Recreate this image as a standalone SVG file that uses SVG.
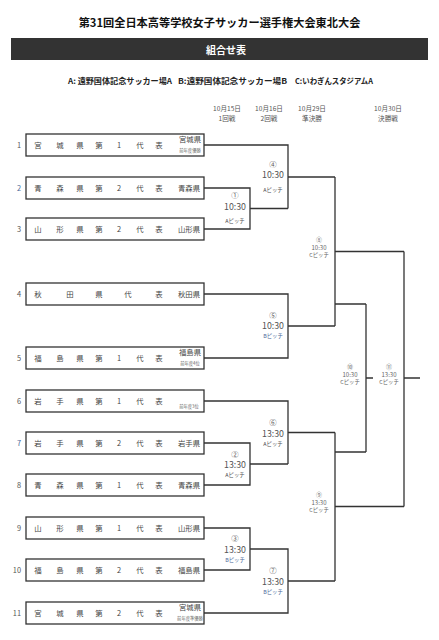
<svg xmlns="http://www.w3.org/2000/svg" width="439" height="640" viewBox="0 0 439 640">
<style>
text{font-family:"Noto Sans CJK JP","Noto Sans",sans-serif;fill:#333}
.title{font-size:11.2px;font-weight:bold;fill:#111}
.bar{fill:#333}
.bartxt{font-size:10px;font-weight:bold;fill:#fff}
.leg{font-size:7.6px;font-weight:bold;fill:#222}
.date{font-size:6.6px;fill:#555;text-anchor:middle}
.box{fill:#fff;stroke:#333;stroke-width:1.3}
.t{font-size:7.4px;fill:#444;text-anchor:middle}
.nm{font-size:7.4px;fill:#444;text-anchor:middle}
.cap{font-size:4.3px;fill:#666;text-anchor:middle}
.num{font-size:7.4px;fill:#555;text-anchor:end}
.numb{fill:#4a6a9a}
.ci{font-size:7.4px;fill:#555;text-anchor:middle}
.tm{font-size:8.8px;fill:#555;text-anchor:middle}
.pt{font-size:5.4px;fill:#555;text-anchor:middle}
.ptb{fill:#4a6a9a}
.sci{font-size:6px;fill:#666;text-anchor:middle}
.stm{font-size:6px;fill:#666;text-anchor:middle}
.spt{font-size:5.4px;fill:#666;text-anchor:middle}
.ln{fill:none;stroke:#333;stroke-width:1.3}
</style>

<g id="header">
<text class="title" x="219.5" y="27" text-anchor="middle">第31回全日本高等学校女子サッカー選手権大会東北大会</text>
<rect class="bar" x="11" y="38" width="417" height="22"/>
<text class="bartxt" x="226" y="53.5" text-anchor="middle">組合せ表</text>
<text class="leg" x="68" y="83.5" textLength="104" lengthAdjust="spacingAndGlyphs">A: 遠野国体記念サッカー場A</text>
<text class="leg" x="178" y="83.5" textLength="109" lengthAdjust="spacingAndGlyphs">B:遠野国体記念サッカー場B</text>
<text class="leg" x="295" y="83.5" textLength="78" lengthAdjust="spacingAndGlyphs">C:いわぎんスタジアムA</text>
<text class="date" x="227" y="111">10月15日</text>
<text class="date" x="227" y="121">1回戦</text>
<text class="date" x="269" y="111">10月16日</text>
<text class="date" x="269" y="121">2回戦</text>
<text class="date" x="312" y="111">10月29日</text>
<text class="date" x="312" y="121">準決勝</text>
<text class="date" x="388" y="111">10月30日</text>
<text class="date" x="388" y="121">決勝戦</text>
</g>

<g id="connectors">
<path class="ln" d="M204 145H288V208.5M204 188H250V229H204M250 208.5H288M288 177H335"/>
<path class="ln" d="M204 294H288V358H204M288 326H335"/>
<path class="ln" d="M335 177V326M335 251.5H404M335 304H366"/>
<path class="ln" d="M204 401H288V464M204 443H250V485H204M250 464H288M288 432.5H335"/>
<path class="ln" d="M204 528H250V570H204M250 549H288V613H204M288 581H335"/>
<path class="ln" d="M335 432.5V581M335 506.5H404M335 452H366"/>
<path class="ln" d="M366 304V452M366 378H373"/>
<path class="ln" d="M404 251.5V506.5M404 378H420"/>
</g>

<g id="team1">
<text class="num" x="21" y="148">1</text>
<rect class="box" x="26" y="134" width="178" height="22"/>
<text class="t" y="148"><tspan x="38">宮</tspan><tspan x="60">城</tspan><tspan x="80">県</tspan><tspan x="99">第</tspan><tspan x="119">1</tspan><tspan x="140">代</tspan><tspan x="159">表</tspan></text>
<text class="nm" x="190" y="142">宮城県</text>
<text class="cap" x="190" y="151.5">前年度優勝</text>
</g>
<g id="team2">
<text class="num numb" x="21" y="191">2</text>
<rect class="box" x="26" y="177" width="178" height="22"/>
<text class="t" y="191"><tspan x="38">青</tspan><tspan x="60">森</tspan><tspan x="80">県</tspan><tspan x="99">第</tspan><tspan x="119">2</tspan><tspan x="140">代</tspan><tspan x="159">表</tspan></text>
<text class="nm" x="189" y="191">青森県</text>
</g>
<g id="team3">
<text class="num" x="21" y="232">3</text>
<rect class="box" x="26" y="218" width="178" height="22"/>
<text class="t" y="232"><tspan x="38">山</tspan><tspan x="60">形</tspan><tspan x="80">県</tspan><tspan x="99">第</tspan><tspan x="119">2</tspan><tspan x="140">代</tspan><tspan x="159">表</tspan></text>
<text class="nm" x="189" y="232">山形県</text>
</g>
<g id="team4">
<text class="num" x="21" y="297">4</text>
<rect class="box" x="26" y="283" width="178" height="22"/>
<text class="t" y="297"><tspan x="38">秋</tspan><tspan x="70">田</tspan><tspan x="99">県</tspan><tspan x="128">代</tspan><tspan x="159">表</tspan></text>
<text class="nm" x="189" y="297">秋田県</text>
</g>
<g id="team5">
<text class="num" x="21" y="361">5</text>
<rect class="box" x="26" y="347" width="178" height="22"/>
<text class="t" y="361"><tspan x="38">福</tspan><tspan x="60">島</tspan><tspan x="80">県</tspan><tspan x="99">第</tspan><tspan x="119">1</tspan><tspan x="140">代</tspan><tspan x="159">表</tspan></text>
<text class="nm" x="190" y="355">福島県</text>
<text class="cap" x="190" y="364.5">前年度4位</text>
</g>
<g id="team6">
<text class="num" x="21" y="404">6</text>
<rect class="box" x="26" y="390" width="178" height="22"/>
<text class="t" y="404"><tspan x="38">岩</tspan><tspan x="60">手</tspan><tspan x="80">県</tspan><tspan x="99">第</tspan><tspan x="119">1</tspan><tspan x="140">代</tspan><tspan x="159">表</tspan></text>
<text class="cap" x="189" y="407.5">前年度3位</text>
</g>
<g id="team7">
<text class="num numb" x="21" y="446">7</text>
<rect class="box" x="26" y="432" width="178" height="22"/>
<text class="t" y="446"><tspan x="38">岩</tspan><tspan x="60">手</tspan><tspan x="80">県</tspan><tspan x="99">第</tspan><tspan x="119">2</tspan><tspan x="140">代</tspan><tspan x="159">表</tspan></text>
<text class="nm" x="189" y="446">岩手県</text>
</g>
<g id="team8">
<text class="num" x="21" y="488">8</text>
<rect class="box" x="26" y="474" width="178" height="22"/>
<text class="t" y="488"><tspan x="38">青</tspan><tspan x="60">森</tspan><tspan x="80">県</tspan><tspan x="99">第</tspan><tspan x="119">1</tspan><tspan x="140">代</tspan><tspan x="159">表</tspan></text>
<text class="nm" x="189" y="488">青森県</text>
</g>
<g id="team9">
<text class="num" x="21" y="531">9</text>
<rect class="box" x="26" y="517" width="178" height="22"/>
<text class="t" y="531"><tspan x="38">山</tspan><tspan x="60">形</tspan><tspan x="80">県</tspan><tspan x="99">第</tspan><tspan x="119">1</tspan><tspan x="140">代</tspan><tspan x="159">表</tspan></text>
<text class="nm" x="189" y="531">山形県</text>
</g>
<g id="team10">
<text class="num" x="21" y="573">10</text>
<rect class="box" x="26" y="559" width="178" height="22"/>
<text class="t" y="573"><tspan x="38">福</tspan><tspan x="60">島</tspan><tspan x="80">県</tspan><tspan x="99">第</tspan><tspan x="119">2</tspan><tspan x="140">代</tspan><tspan x="159">表</tspan></text>
<text class="nm" x="189" y="573">福島県</text>
</g>
<g id="team11">
<text class="num" x="21" y="616">11</text>
<rect class="box" x="26" y="602" width="178" height="22"/>
<text class="t" y="616"><tspan x="38">宮</tspan><tspan x="60">城</tspan><tspan x="80">県</tspan><tspan x="99">第</tspan><tspan x="119">2</tspan><tspan x="140">代</tspan><tspan x="159">表</tspan></text>
<text class="nm" x="190" y="610">宮城県</text>
<text class="cap" x="190" y="619.5">前年度準優勝</text>
</g>

<g id="match1">
<text class="ci" x="235" y="197.5">①</text>
<text class="tm" x="235" y="209.5">10:30</text>
<text class="pt" x="235" y="223">Aピッチ</text>
</g>
<g id="match2">
<text class="ci" x="235" y="457">②</text>
<text class="tm" x="235" y="467.5">13:30</text>
<text class="pt" x="235" y="476.5">Aピッチ</text>
</g>
<g id="match3">
<text class="ci" x="235" y="541">③</text>
<text class="tm" x="235" y="552.5">13:30</text>
<text class="pt ptb" x="235" y="561.5">Bピッチ</text>
</g>
<g id="match4">
<text class="ci" x="273" y="166.5">④</text>
<text class="tm" x="273" y="177.5">10:30</text>
<text class="pt" x="273" y="192">Aピッチ</text>
</g>
<g id="match5">
<text class="ci" x="273" y="318">⑤</text>
<text class="tm" x="273" y="329">10:30</text>
<text class="pt ptb" x="273" y="338">Bピッチ</text>
</g>
<g id="match6">
<text class="ci" x="273" y="425">⑥</text>
<text class="tm" x="273" y="436.5">13:30</text>
<text class="pt" x="273" y="445.5">Aピッチ</text>
</g>
<g id="match7">
<text class="ci" x="273" y="573">⑦</text>
<text class="tm" x="273" y="584.5">13:30</text>
<text class="pt ptb" x="273" y="593.5">Bピッチ</text>
</g>
<g id="match8">
<text class="sci" x="319" y="241.5">⑧</text>
<text class="stm" x="319" y="249.5">10:30</text>
<text class="spt" x="319" y="256.5">Cピッチ</text>
</g>
<g id="match9">
<text class="sci" x="319" y="496.5">⑨</text>
<text class="stm" x="319" y="504.5">13:30</text>
<text class="spt" x="319" y="511.5">Cピッチ</text>
</g>
<g id="match10">
<text class="sci" x="350" y="368.5">⑩</text>
<text class="stm" x="350" y="376.5">10:30</text>
<text class="spt" x="350" y="383.5">Cピッチ</text>
</g>
<g id="match11">
<text class="sci" x="389" y="368.5">⑪</text>
<text class="stm" x="389" y="376.5">13:30</text>
<text class="spt" x="389" y="383.5">Cピッチ</text>
</g>
</svg>
